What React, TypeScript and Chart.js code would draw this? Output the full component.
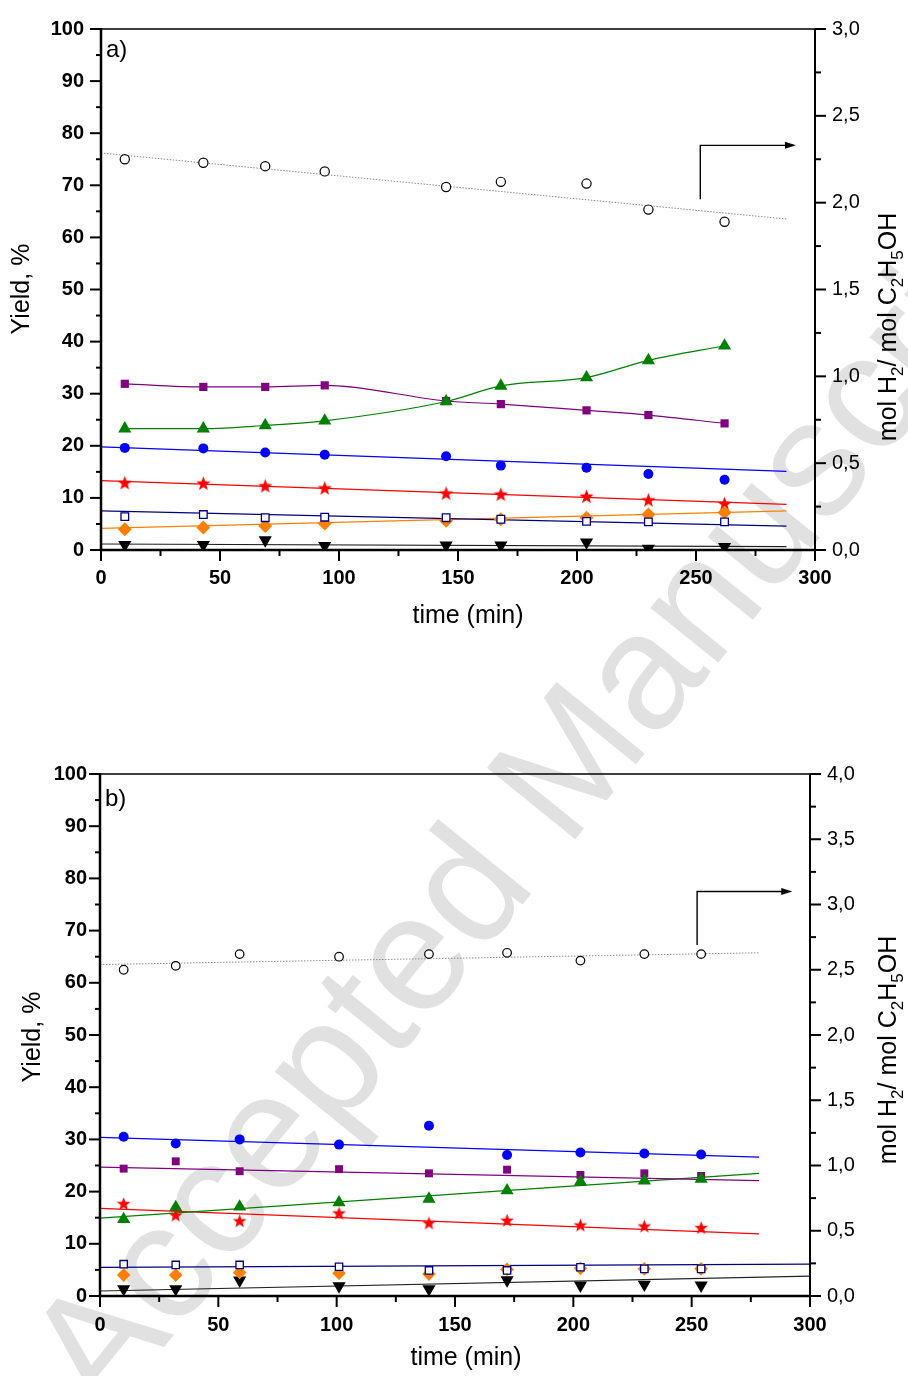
import { useEffect, useRef } from 'react';
import { Chart, registerables } from 'chart.js';

Chart.register(...registerables);

const FONT = "'Liberation Sans', Arial, Helvetica, sans-serif";
const W = 908;
const H = 688;

// ---------- panel a) ----------
const timeA = [10, 43, 69, 94, 145, 168, 204, 230, 262];
const h2A = [2.25, 2.23, 2.21, 2.18, 2.09, 2.12, 2.11, 1.96, 1.89];
const purpleA = [31.9, 31.3, 31.3, 31.6, 28.6, 28.0, 26.8, 25.9, 24.3];
const greenA = [23.3, 23.3, 23.9, 24.8, 28.5, 31.5, 33.1, 36.4, 39.2];
const blueA = [19.6, 19.5, 18.7, 18.3, 18.0, 16.2, 15.8, 14.6, 13.5];
const redA = [12.9, 12.8, 12.3, 11.9, 10.9, 10.7, 10.3, 9.6, 8.9];
const navyA = [6.4, 6.8, 6.2, 6.3, 6.2, 5.9, 5.5, 5.4, 5.4];
const orangeA = [4.0, 4.3, 4.6, 5.1, 5.6, 5.9, 6.2, 6.8, 7.2];
const blackA = [1.0, 1.0, 1.9, 0.8, 0.9, 0.9, 1.5, 0.3, 0.6];

// straight-line fits: [value at start, value at end] over the span
const fitSpanA = [0, 288];
const h2FitA = [2.286, 1.906];
const blueFitA = [19.8, 15.1];
const redFitA = [13.3, 8.75];
const navyFitA = [7.5, 4.6];
const orangeFitA = [4.15, 7.5];
const blackFitA = [1.15, 0.65];

// arrow pointing to the right-hand axis: [time], [mol ratio]
const arrowTimeA = [251.8, 292];
const arrowRatioA = [2.02, 2.33];

// ---------- panel b) ----------
const timeB = [10, 32, 59, 101, 139, 172, 203, 230, 254];
const h2B = [2.5, 2.53, 2.62, 2.6, 2.62, 2.63, 2.57, 2.62, 2.62];
const blueB = [30.5, 29.2, 30.0, 29.0, 32.6, 27.0, 27.5, 27.3, 27.1];
const purpleB = [24.4, 25.8, 23.9, 24.3, 23.5, 24.2, 23.2, 23.5, 23.0];
const greenB = [14.7, 17.0, 17.1, 17.9, 18.6, 20.2, 21.9, 22.1, 22.4];
const redB = [17.7, 15.5, 14.4, 15.9, 14.0, 14.5, 13.6, 13.4, 13.1];
const navyB = [6.1, 5.95, 5.95, 5.6, 4.9, 4.9, 5.5, 5.2, 5.2];
const orangeB = [4.0, 4.0, 4.5, 4.35, 4.2, 5.1, 5.3, 5.2, 5.2];
const blackB = [1.35, 1.35, 3.0, 1.9, 1.35, 3.05, 2.05, 2.2, 2.05];

const fitSpanB = [0, 278.5];
const fitSpanLongB = [0, 300];
const h2FitB = [2.54, 2.63];
const blueFitB = [30.4, 26.6];
const purpleFitB = [24.7, 22.1];
const greenFitB = [14.9, 23.5];
const redFitB = [16.8, 11.9];
const navyFitB = [5.5, 6.1];
const blackFitB = [0.96, 3.8];

const arrowTimeB = [252.3, 292.5];
const arrowRatioB = [2.69, 3.1];

// ---------- helpers ----------
const pts = (t: number[], v: number[]) => t.map((x, i) => ({ x, y: v[i] }));
const seg = (span: number[], v: number[]) => [
  { x: span[0], y: v[0] },
  { x: span[1], y: v[1] },
];

function starImage(color: string, R: number, r: number) {
  const size = Math.ceil(R * 2 + 2);
  const c = document.createElement('canvas');
  c.width = size;
  c.height = size;
  const g = c.getContext('2d')!;
  g.translate(size / 2, size / 2 + R * 0.08);
  g.beginPath();
  for (let i = 0; i < 10; i++) {
    const rad = i % 2 === 0 ? R : r;
    const ang = -Math.PI / 2 + (i * Math.PI) / 5;
    g.lineTo(rad * Math.cos(ang), rad * Math.sin(ang));
  }
  g.closePath();
  g.fillStyle = color;
  g.fill();
  return c;
}

const C = {
  purple: '#800080',
  green: '#008000',
  blue: '#0000ff',
  red: '#ff0000',
  navy: '#000080',
  orange: '#ff8000',
  black: '#000000',
};

function marks(data: { x: number; y: number }[], style: any, yAxisID = 'y') {
  return {
    data,
    yAxisID,
    showLine: false,
    pointHoverRadius: 0,
    ...style,
  };
}

function fit(data: { x: number; y: number }[], color: string, yAxisID = 'y', extra: any = {}) {
  return {
    data,
    yAxisID,
    showLine: true,
    borderColor: color,
    borderWidth: 1.2,
    pointRadius: 0,
    pointHoverRadius: 0,
    ...extra,
  };
}

function drawRich(ctx: CanvasRenderingContext2D, parts: [string, boolean][], cx: number, cy: number, size: number, rot: number) {
  const big = `${size}px ${FONT}`;
  const small = `${Math.round(size * 0.66)}px ${FONT}`;
  let total = 0;
  for (const [s, sub] of parts) {
    ctx.font = sub ? small : big;
    total += ctx.measureText(s).width;
  }
  ctx.save();
  ctx.translate(cx, cy);
  ctx.rotate(rot);
  ctx.textBaseline = 'alphabetic';
  ctx.textAlign = 'left';
  let x = -total / 2;
  const base = size * 0.36;
  for (const [s, sub] of parts) {
    ctx.font = sub ? small : big;
    ctx.fillText(s, x, sub ? base + size * 0.28 : base);
    x += ctx.measureText(s).width;
  }
  ctx.restore();
}

const decoPlugin = {
  id: 'deco',
  afterDatasetsDraw(chart: any, _args: any, o: any) {
    const { ctx, chartArea: a, scales } = chart;
    const sx = scales.x;
    const sy = scales.y;
    const sr = scales.y2;
    ctx.save();
    ctx.strokeStyle = '#000';
    ctx.fillStyle = '#000';
    const line = (x1: number, y1: number, x2: number, y2: number, w: number) => {
      ctx.lineWidth = w;
      ctx.beginPath();
      ctx.moveTo(x1, y1);
      ctx.lineTo(x2, y2);
      ctx.stroke();
    };
    // tick marks, major and minor
    for (let v = 0; v <= 100; v += 5) {
      const py = sy.getPixelForValue(v);
      line(a.left - (v % 10 === 0 ? 11 : 5), py, a.left, py, 2);
    }
    for (let t = 0; t <= 300; t += 25) {
      const px = sx.getPixelForValue(t);
      line(px, a.bottom, px, a.bottom + (t % 50 === 0 ? 11 : 6), 2);
    }
    for (let k = 0; k <= o.rightMax * 4; k++) {
      const py = sr.getPixelForValue(k / 4);
      line(a.right, py, a.right + (k % 2 === 0 ? 11 : 6), py, 2);
    }
    // frame
    line(a.left - 1, a.top, a.right + 1, a.top, 1.6);
    line(a.right, a.top, a.right, a.bottom, 2);
    line(a.left, a.top - 1, a.left, a.bottom + 1.2, 2.5);
    line(a.left - 1.2, a.bottom, a.right + 1, a.bottom, 2.6);

    // arrow to the right-hand axis
    const ax0 = sx.getPixelForValue(o.arrowT[0]);
    const ax1 = sx.getPixelForValue(o.arrowT[1]);
    const ay0 = sr.getPixelForValue(o.arrowV[0]);
    const ay1 = sr.getPixelForValue(o.arrowV[1]);
    ctx.lineWidth = 1.4;
    ctx.beginPath();
    ctx.moveTo(ax0, ay0);
    ctx.lineTo(ax0, ay1);
    ctx.lineTo(ax1 - 9, ay1);
    ctx.stroke();
    ctx.beginPath();
    ctx.moveTo(ax1, ay1);
    ctx.lineTo(ax1 - 11, ay1 - 3.5);
    ctx.lineTo(ax1 - 11, ay1 + 3.5);
    ctx.closePath();
    ctx.fill();

    // panel letter
    ctx.font = `24px ${FONT}`;
    ctx.textAlign = 'left';
    ctx.textBaseline = 'alphabetic';
    ctx.fillText(o.label, o.labelX, o.labelY);

    // axis titles
    ctx.font = `25px ${FONT}`;
    ctx.textAlign = 'center';
    ctx.textBaseline = 'middle';
    ctx.fillText('time (min)', o.bottomTitle[0], o.bottomTitle[1]);
    ctx.save();
    ctx.translate(o.leftTitle[0], o.leftTitle[1]);
    ctx.rotate(-Math.PI / 2);
    ctx.fillText('Yield, %', 0, 0);
    ctx.restore();
    drawRich(
      ctx,
      [
        ['mol H', false],
        ['2', true],
        ['/ mol C', false],
        ['2', true],
        ['H', false],
        ['5', true],
        ['OH', false],
      ],
      o.rightTitle[0],
      o.rightTitle[1],
      25,
      -Math.PI / 2
    );
    ctx.restore();
  },
};

function makeConfig(p: {
  datasets: any[];
  left: number;
  right: number;
  top: number;
  bottom: number;
  rightMax: number;
  leftPad: number;
  bottomPad: number;
  deco: any;
}) {
  const tickFont = { family: FONT, size: 20, weight: 'bold' as const };
  return {
    type: 'scatter' as const,
    data: { datasets: p.datasets },
    plugins: [decoPlugin],
    options: {
      responsive: false,
      maintainAspectRatio: false,
      animation: false as const,
      events: [],
      layout: { padding: { top: p.top, left: 0, right: 0, bottom: 0 } },
      plugins: {
        legend: { display: false },
        tooltip: { enabled: false },
        deco: { ...p.deco, rightMax: p.rightMax },
      },
      scales: {
        x: {
          type: 'linear' as const,
          position: 'bottom' as const,
          min: 0,
          max: 300,
          grid: { display: false, drawTicks: false },
          border: { display: false },
          ticks: {
            stepSize: 50,
            font: tickFont,
            color: '#000',
            padding: p.bottomPad,
            maxRotation: 0,
            autoSkip: false,
          },
          afterFit: (s: any) => {
            s.height = H - p.bottom;
          },
        },
        y: {
          type: 'linear' as const,
          position: 'left' as const,
          min: 0,
          max: 100,
          grid: { display: false, drawTicks: false },
          border: { display: false },
          ticks: { stepSize: 10, font: tickFont, color: '#000', padding: p.leftPad },
          afterFit: (s: any) => {
            s.width = p.left;
          },
        },
        y2: {
          type: 'linear' as const,
          position: 'right' as const,
          min: 0,
          max: p.rightMax,
          grid: { display: false, drawTicks: false },
          border: { display: false },
          ticks: {
            stepSize: 0.5,
            font: { family: FONT, size: 20 },
            color: '#000',
            padding: 17,
            callback: (v: any) => Number(v).toFixed(1).replace('.', ','),
          },
          afterFit: (s: any) => {
            s.width = W - p.right;
          },
        },
      },
    },
  };
}

function buildA() {
  const star = starImage(C.red, 7.5, 3.1);
  const datasets = [
    marks(pts(timeA, h2A), { pointStyle: 'circle', pointRadius: 4.6, pointBackgroundColor: '#fff', pointBorderColor: '#000', pointBorderWidth: 1.2 }, 'y2'),
    marks(pts(timeA, navyA), { pointStyle: 'rect', pointRadius: 5.4, pointBackgroundColor: '#fff', pointBorderColor: C.navy, pointBorderWidth: 1.3 }),
    marks(pts(timeA, orangeA), { pointStyle: 'rectRot', pointRadius: 7, pointBackgroundColor: C.orange, pointBorderColor: C.orange, pointBorderWidth: 0 }),
    marks(pts(timeA, blueA), { pointStyle: 'circle', pointRadius: 5, pointBackgroundColor: C.blue, pointBorderColor: C.blue, pointBorderWidth: 0 }),
    marks(pts(timeA, redA), { pointStyle: star, pointRadius: 7 }),
    {
      data: pts(timeA, greenA),
      yAxisID: 'y',
      showLine: true,
      borderColor: C.green,
      borderWidth: 1.2,
      cubicInterpolationMode: 'monotone',
      pointStyle: 'triangle',
      pointRadius: 7.6,
      pointBackgroundColor: C.green,
      pointBorderColor: C.green,
      pointBorderWidth: 0,
      pointHoverRadius: 0,
    },
    {
      data: pts(timeA, purpleA),
      yAxisID: 'y',
      showLine: true,
      borderColor: C.purple,
      borderWidth: 1.2,
      cubicInterpolationMode: 'monotone',
      pointStyle: 'rect',
      pointRadius: 5.8,
      pointBackgroundColor: C.purple,
      pointBorderColor: C.purple,
      pointBorderWidth: 0,
      pointHoverRadius: 0,
    },
    marks(pts(timeA, blackA), { pointStyle: 'triangle', pointRotation: 180, pointRadius: 7.6, pointBackgroundColor: C.black, pointBorderColor: C.black, pointBorderWidth: 0 }),
    fit(seg(fitSpanA, h2FitA), '#8a8a8a', 'y2', { borderWidth: 1, borderDash: [1.5, 1.5] }),
    fit(seg(fitSpanA, blueFitA), C.blue),
    fit(seg(fitSpanA, redFitA), C.red),
    fit(seg(fitSpanA, navyFitA), C.navy),
    fit(seg(fitSpanA, orangeFitA), C.orange),
    fit(seg(fitSpanA, blackFitA), '#222'),
  ];
  return makeConfig({
    datasets,
    left: 101,
    right: 815,
    top: 28,
    bottom: 550,
    rightMax: 3,
    leftPad: 17,
    bottomPad: 16,
    deco: {
      label: 'a)',
      labelX: 106,
      labelY: 57,
      leftTitle: [22, 289],
      bottomTitle: [468, 616],
      rightTitle: [887, 327],
      arrowT: arrowTimeA,
      arrowV: arrowRatioA,
    },
  });
}

function buildB() {
  const star = starImage(C.red, 7.2, 3);
  const datasets = [
    marks(pts(timeB, h2B), { pointStyle: 'circle', pointRadius: 4.3, pointBackgroundColor: '#fff', pointBorderColor: '#000', pointBorderWidth: 1.2 }, 'y2'),
    marks(pts(timeB, navyB), { pointStyle: 'rect', pointRadius: 5.2, pointBackgroundColor: '#fff', pointBorderColor: C.navy, pointBorderWidth: 1.3 }),
    marks(pts(timeB, orangeB), { pointStyle: 'rectRot', pointRadius: 6.8, pointBackgroundColor: C.orange, pointBorderColor: C.orange, pointBorderWidth: 0 }),
    marks(pts(timeB, blueB), { pointStyle: 'circle', pointRadius: 5, pointBackgroundColor: C.blue, pointBorderColor: C.blue, pointBorderWidth: 0 }),
    marks(pts(timeB, redB), { pointStyle: star, pointRadius: 7 }),
    marks(pts(timeB, greenB), { pointStyle: 'triangle', pointRadius: 7.6, pointBackgroundColor: C.green, pointBorderColor: C.green, pointBorderWidth: 0 }),
    marks(pts(timeB, purpleB), { pointStyle: 'rect', pointRadius: 5.6, pointBackgroundColor: C.purple, pointBorderColor: C.purple, pointBorderWidth: 0 }),
    marks(pts(timeB, blackB), { pointStyle: 'triangle', pointRotation: 180, pointRadius: 7.6, pointBackgroundColor: C.black, pointBorderColor: C.black, pointBorderWidth: 0 }),
    fit(seg(fitSpanB, h2FitB), '#8a8a8a', 'y2', { borderWidth: 1, borderDash: [1.5, 1.5] }),
    fit(seg(fitSpanB, blueFitB), C.blue),
    fit(seg(fitSpanB, purpleFitB), C.purple),
    fit(seg(fitSpanB, greenFitB), C.green),
    fit(seg(fitSpanB, redFitB), C.red),
    fit(seg(fitSpanLongB, navyFitB), C.navy),
    fit(seg(fitSpanLongB, blackFitB), '#222'),
  ];
  return makeConfig({
    datasets,
    left: 100,
    right: 810,
    top: 86,
    bottom: 608,
    rightMax: 4,
    leftPad: 13,
    bottomPad: 17,
    deco: {
      label: 'b)',
      labelX: 105,
      labelY: 118,
      leftTitle: [33, 349],
      bottomTitle: [466, 670],
      rightTitle: [887, 362],
      arrowT: arrowTimeB,
      arrowV: arrowRatioB,
    },
  });
}

function Panel({ build, top }: { build: () => any; top: number }) {
  const ref = useRef<HTMLCanvasElement>(null);
  useEffect(() => {
    const chart = new Chart(ref.current as HTMLCanvasElement, build());
    return () => chart.destroy();
  }, [build]);
  return (
    <canvas
      ref={ref}
      width={W}
      height={H}
      style={{ position: 'absolute', left: 0, top, width: W, height: H }}
    />
  );
}

export default function App() {
  return (
    <div
      style={{
        position: 'absolute',
        left: 0,
        top: 0,
        width: W,
        height: 2 * H,
        overflow: 'hidden',
        background: '#fff',
      }}
    >
      <svg
        width={W}
        height={2 * H}
        style={{ position: 'absolute', left: 0, top: 0 }}
      >
        <text
          x={105}
          y={1420}
          transform="rotate(-51 105 1420)"
          style={{ fontFamily: "'Liberation Sans', Arial, sans-serif", fontSize: '165px' }}
          fill="#e1e1e1"
        >
          Accepted Manuscript
        </text>
      </svg>
      <Panel build={buildA} top={0} />
      <Panel build={buildB} top={H} />
    </div>
  );
}
